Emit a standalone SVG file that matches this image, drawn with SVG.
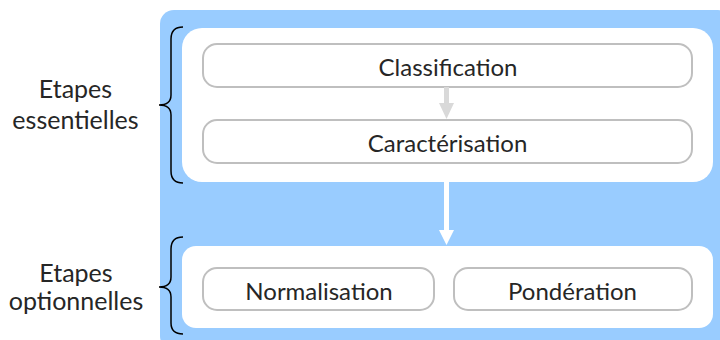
<svg xmlns="http://www.w3.org/2000/svg" width="720" height="340" viewBox="0 0 720 340">
<style>
.bg{fill:#99ccff}
.panel{fill:#ffffff}
.box{fill:#ffffff;stroke:#bfbfbf;stroke-width:2}
.t{font-family:Lato,"Open Sans",sans-serif;font-size:24px;fill:#262626;text-anchor:middle}
.l{font-size:25px}
.brace{fill:none;stroke:#000;stroke-width:1.5}
</style>
<rect class="bg" x="160" y="10" width="572" height="340" rx="14"/>
<g id="panel-essentielles"><rect class="panel" x="182" y="28" width="531" height="154" rx="20"/></g>
<g id="panel-optionnelles"><rect class="panel" x="182" y="246" width="531" height="82" rx="14"/></g>
<g id="classification"><rect class="box" x="203" y="44" width="489" height="43" rx="14"/><text class="t" x="448" y="76">Classification</text></g>
<g id="caracterisation"><rect class="box" x="203" y="120" width="489" height="43" rx="14"/><text class="t" x="447.5" y="152">Caractérisation</text></g>
<g id="normalisation"><rect class="box" x="203" y="268" width="231" height="42" rx="14"/><text class="t" x="319" y="300">Normalisation</text></g>
<g id="ponderation"><rect class="box" x="454" y="268" width="238" height="42" rx="14"/><text class="t" x="572.5" y="300">Pondération</text></g>
<g id="label-essentielles"><text class="t l" x="75.5" y="98">Etapes</text><text class="t l" x="75.5" y="129">essentielles</text>
<path class="brace" d="M183,27 C175,27 171,31 171,39 L171,95 C171,101 167,105 159,105 C167,105 171,109 171,115 L171,171 C171,179 175,183 183,183"/></g>
<g id="label-optionnelles"><text class="t l" x="76" y="282">Etapes</text><text class="t l" x="76" y="310">optionnelles</text>
<path class="brace" d="M183,237 C175,237 171,241 171,249 L171,277 C171,283 167,287 159,287 C167,287 171,291 171,297 L171,323 C171,331 175,334 183,334"/></g>
<g id="connectors">
<polygon fill="#d9d9d9" points="444,87 449,87 449,103 454,103 446.5,119 439,103 444,103"/>
<polygon fill="#ffffff" points="444,182 449,182 449,230 454,230 446.5,245 439,230 444,230"/>
</g>
</svg>
